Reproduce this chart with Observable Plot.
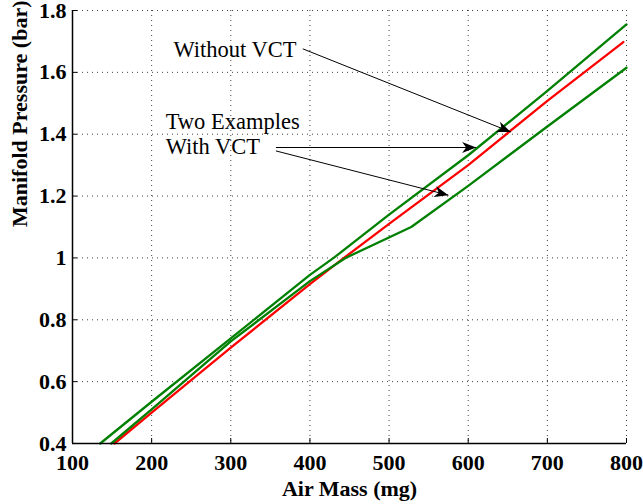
<!DOCTYPE html>
<html>
<head>
<meta charset="utf-8">
<script src="https://cdn.jsdelivr.net/npm/d3@7"></script>
<script src="https://cdn.jsdelivr.net/npm/@observablehq/plot@0.6"></script>
<style>
  html, body { margin: 0; padding: 0; background: #fff; }
  #chart svg, #chart svg text, #chart svg g { font-family: 'Liberation Serif', 'Times New Roman', Times, serif !important; }
</style>
</head>
<body>
<div id="chart"></div>
<script>
// Without VCT (red)
const xWithout = [153, 200, 300, 400, 443, 500, 600, 700, 796];
const yWithout = [0.40, 0.50, 0.71, 0.915, 1.00, 1.11, 1.30, 1.508, 1.698];
// With VCT, example A (upper green)
const xWithA = [135, 200, 300, 400, 430, 500, 600, 700, 800];
const yWithA = [0.40, 0.535, 0.74, 0.945, 1.00, 1.14, 1.332, 1.54, 1.755];
// With VCT, example B (lower green, kinked)
const xWithB = [149, 200, 300, 400, 445, 528, 600, 700, 800];
const yWithB = [0.40, 0.51, 0.73, 0.925, 1.00, 1.10, 1.233, 1.425, 1.615];

const xTicks = [100, 200, 300, 400, 500, 600, 700, 800];
const xTickLabels = ["100", "200", "300", "400", "500", "600", "700", "800"];
const yTicks = [0.4, 0.6, 0.8, 1.0, 1.2, 1.4, 1.6, 1.8];
const yTickLabels = ["0.4", "0.6", "0.8", "1", "1.2", "1.4", "1.6", "1.8"];

const xTitle = "Air Mass (mg)";
const yTitle = "Manifold Pressure (bar)";
const labelWithout = "Without VCT";
const labelWith1 = "Two Examples";
const labelWith2 = "With VCT";

const GREEN = "#008000";
const RED = "#ff0000";
const SERIF = "'Liberation Serif', 'Times New Roman', Times, serif";

function arrowHead(color, context) {
  const doc = (context && context.document) || document;
  const ns = "http://www.w3.org/2000/svg";
  const m = doc.createElementNS(ns, "marker");
  m.setAttribute("viewBox", "-15 -6 16 12");
  m.setAttribute("markerWidth", 16);
  m.setAttribute("markerHeight", 12);
  m.setAttribute("markerUnits", "userSpaceOnUse");
  m.setAttribute("refX", 0);
  m.setAttribute("refY", 0);
  m.setAttribute("orient", "auto");
  const p = doc.createElementNS(ns, "path");
  p.setAttribute("d", "M0,0L-14,-5.5L-10,0L-14,5.5Z");
  p.setAttribute("fill", "#000");
  p.setAttribute("stroke", "none");
  m.appendChild(p);
  return m;
}

function build(marker) {
  const arrowOpts = {stroke: "#000", strokeWidth: 1, markerEnd: marker, curve: "linear"};
  const txt = {textAnchor: "start", lineAnchor: "bottom", fontWeight: "normal", fontSize: 22.5, fill: "#000", fontFamily: SERIF};
  return Plot.plot({
    width: 643,
    height: 504,
    marginLeft: 72,
    marginRight: 17,
    marginTop: 10,
    marginBottom: 61,
    style: {fontFamily: SERIF, fontSize: "22px", fontWeight: "bold", background: "#fff", color: "#000", overflow: "visible"},
    x: {domain: [100, 800], ticks: xTicks, tickFormat: d => xTickLabels[xTicks.indexOf(d)], tickSize: 0, tickPadding: 11, label: null},
    y: {domain: [0.4, 1.8], ticks: yTicks, tickFormat: d => yTickLabels[yTicks.indexOf(d)], tickSize: 0, tickPadding: 6, label: null},
    marks: [
      // dotted grid
      Plot.ruleX(xTicks.slice(1), {x: d => d, stroke: "#000", strokeOpacity: 0.75, strokeDasharray: "1,4", strokeWidth: 1}),
      Plot.ruleY(yTicks.slice(1), {y: d => d, stroke: "#000", strokeOpacity: 0.75, strokeDasharray: "1,4", strokeWidth: 1}),
      // data lines
      Plot.line(xWithout, {x: xWithout, y: yWithout, stroke: RED, strokeWidth: 2.3}),
      Plot.line(xWithA, {x: xWithA, y: yWithA, stroke: GREEN, strokeWidth: 2.3}),
      Plot.line(xWithB, {x: xWithB, y: yWithB, stroke: GREEN, strokeWidth: 2.3}),
      // axis lines
      Plot.ruleY([0.4], {stroke: "#000", strokeWidth: 1.5}),
      Plot.ruleX([100], {stroke: "#000", strokeWidth: 1.5}),
      // inward ticks
      Plot.ruleX(xTicks, {x: d => d, y1: 0.4, y2: 0.4, insetBottom: 5, stroke: "#000", strokeWidth: 1}),
      Plot.ruleY(yTicks, {y: d => d, x1: 100, x2: 100, insetRight: -5, stroke: "#000", strokeWidth: 1}),
      // annotations
      Plot.link([0], {x1: 391, y1: 1.676, x2: 654, y2: 1.407, ...arrowOpts}),
      Plot.link([0], {x1: 357, y1: 1.357, x2: 610, y2: 1.357, ...arrowOpts}),
      Plot.link([0], {x1: 357, y1: 1.346, x2: 575, y2: 1.203, ...arrowOpts}),
      Plot.text([labelWithout], {x: 227.5, y: 1.649, text: d => d, ...txt}),
      Plot.text([labelWith1], {x: 217.7, y: 1.418, text: d => d, ...txt}),
      Plot.text([labelWith2], {x: 217.7, y: 1.335, text: d => d, ...txt}),
      // axis titles
      Plot.text([xTitle], {frameAnchor: "bottom", dy: 52, text: d => d, lineAnchor: "bottom", fontWeight: "bold", fontSize: 22, fill: "#000", fontFamily: SERIF}),
      Plot.text([yTitle], {frameAnchor: "left", dx: -53, rotate: -90, text: d => d, lineAnchor: "middle", fontWeight: "bold", fontSize: 22, fill: "#000", fontFamily: SERIF})
    ]
  });
}

let chart;
try {
  chart = build(arrowHead);
} catch (e) {
  chart = build("arrow");
}
document.getElementById("chart").appendChild(chart);
</script>
</body>
</html>
